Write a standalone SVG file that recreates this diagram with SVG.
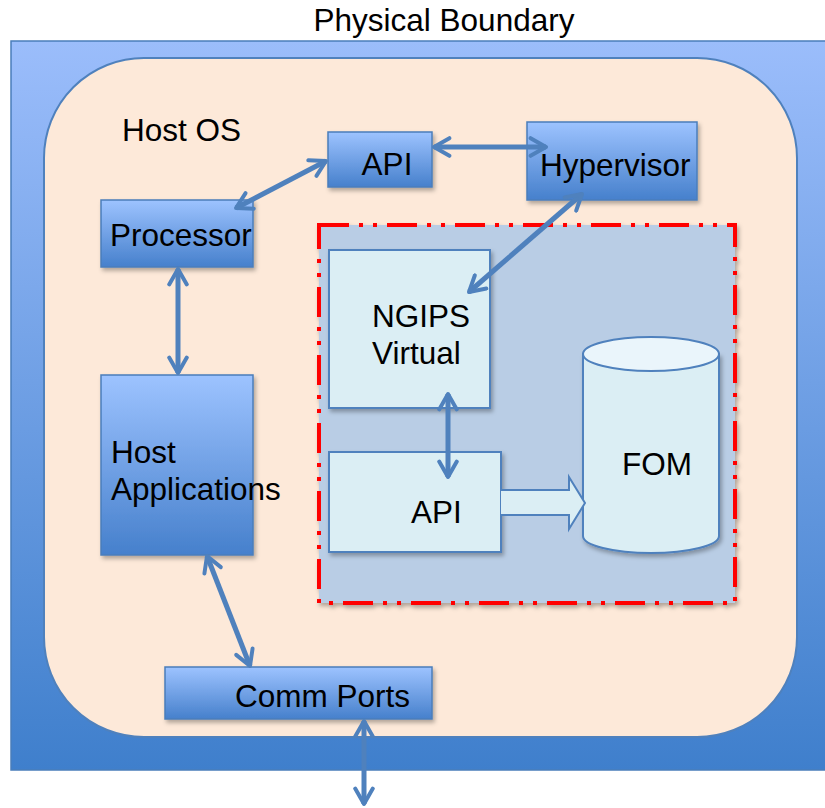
<svg xmlns="http://www.w3.org/2000/svg" width="825" height="808" viewBox="0 0 825 808">
<style>
  text { font-family: "Liberation Sans", Arial, sans-serif; fill: #000; }
  .t26 { font-size: 31.5px; }
  .box { fill: url(#gBox); stroke: #4a7ebb; stroke-width: 1.5; filter: url(#sh); }
  .lbox { fill: #dbeef4; stroke: #4f81bd; stroke-width: 2; filter: url(#sh); }
  .conn { stroke: #4f81bd; stroke-width: 5; fill: none; marker-start: url(#ah); marker-end: url(#ah); }
</style>
<defs>
  <linearGradient id="gOuter" x1="0" y1="0" x2="0" y2="1">
    <stop offset="0" stop-color="#9bbdfb"/>
    <stop offset="1" stop-color="#3f7fcc"/>
  </linearGradient>
  <linearGradient id="gBox" x1="0" y1="0" x2="0" y2="1">
    <stop offset="0" stop-color="#9dc3ff"/>
    <stop offset="1" stop-color="#4680cc"/>
  </linearGradient>
  <filter id="sh" x="-10%" y="-10%" width="130%" height="130%">
    <feDropShadow dx="2" dy="3" stdDeviation="2" flood-color="#000" flood-opacity="0.3"/>
  </filter>
  <marker id="ah" viewBox="0 0 10 10" refX="8.5" refY="5" markerWidth="4.4" markerHeight="4.4" orient="auto-start-reverse" markerUnits="strokeWidth">
    <path d="M1.5,1 L8.5,5 L1.5,9" fill="none" stroke="#4f81bd" stroke-width="1.8" stroke-linecap="round" stroke-linejoin="round"/>
  </marker>
</defs>

<text class="t26" x="444" y="31" text-anchor="middle">Physical Boundary</text>

<g id="physical-boundary">
  <rect x="11" y="41" width="820" height="729" fill="url(#gOuter)" stroke="#4a7ebb" stroke-width="1.5"/>
</g>

<g id="host-os">
  <rect x="44" y="58" width="753" height="679" rx="100" ry="100" fill="#fde9d9" stroke="#4f81bd" stroke-width="2"/>
  <text class="t26" x="122" y="141">Host OS</text>
</g>

<g id="vm-boundary">
  <rect x="319" y="225" width="416" height="378" fill="#b9cde5" stroke="#ff0000" stroke-width="4" stroke-dasharray="30,10,4,10,4,10" filter="url(#sh)"/>
</g>

<g id="api-top">
  <rect class="box" x="328" y="132" width="104" height="55"/>
  <text class="t26" x="387" y="175" text-anchor="middle">API</text>
</g>

<g id="hypervisor">
  <rect class="box" x="527" y="122" width="170" height="78"/>
  <text class="t26" x="540" y="176">Hypervisor</text>
</g>

<g id="processor">
  <rect class="box" x="101" y="200" width="152" height="67"/>
  <text class="t26" x="110" y="246">Processor</text>
</g>

<g id="host-applications">
  <rect class="box" x="101" y="375" width="152" height="180"/>
  <text class="t26" x="111" y="463">Host</text>
  <text class="t26" x="111" y="500">Applications</text>
</g>

<g id="comm-ports">
  <rect class="box" x="165" y="667" width="267" height="52"/>
  <text class="t26" x="235" y="707">Comm Ports</text>
</g>

<g id="ngips-virtual">
  <rect class="lbox" x="329" y="250" width="161" height="158"/>
  <text class="t26" x="372" y="327">NGIPS</text>
  <text class="t26" x="372" y="364">Virtual</text>
</g>

<g id="api-bottom">
  <rect class="lbox" x="329" y="452" width="172" height="100"/>
  <text class="t26" x="411" y="523">API</text>
</g>

<g id="fom">
  <path d="M583,354 L583,536 A68,17 0 0 0 719,536 L719,354 Z" fill="#dbeef4" stroke="#4f81bd" stroke-width="2" filter="url(#sh)"/>
  <ellipse cx="651" cy="354" rx="68" ry="17" fill="#eaf5fb" stroke="#4f81bd" stroke-width="2"/>
  <text class="t26" x="622" y="475">FOM</text>
</g>

<g id="connectors">
  <path d="M501,490 L569,490 L569,477 L585,503 L569,529 L569,515 L501,515" fill="#dbeef4" stroke="#4f81bd" stroke-width="2"/>
  <line class="conn" x1="236" y1="208" x2="326" y2="161"/>
  <line class="conn" x1="434" y1="147" x2="546" y2="147"/>
  <line class="conn" x1="582" y1="194" x2="469" y2="292"/>
  <line class="conn" x1="178" y1="269" x2="178" y2="373"/>
  <line class="conn" x1="448" y1="394" x2="448" y2="477"/>
  <line class="conn" x1="207" y1="556" x2="250" y2="666"/>
  <line class="conn" x1="364" y1="721" x2="364" y2="804"/>
</g>
</svg>
